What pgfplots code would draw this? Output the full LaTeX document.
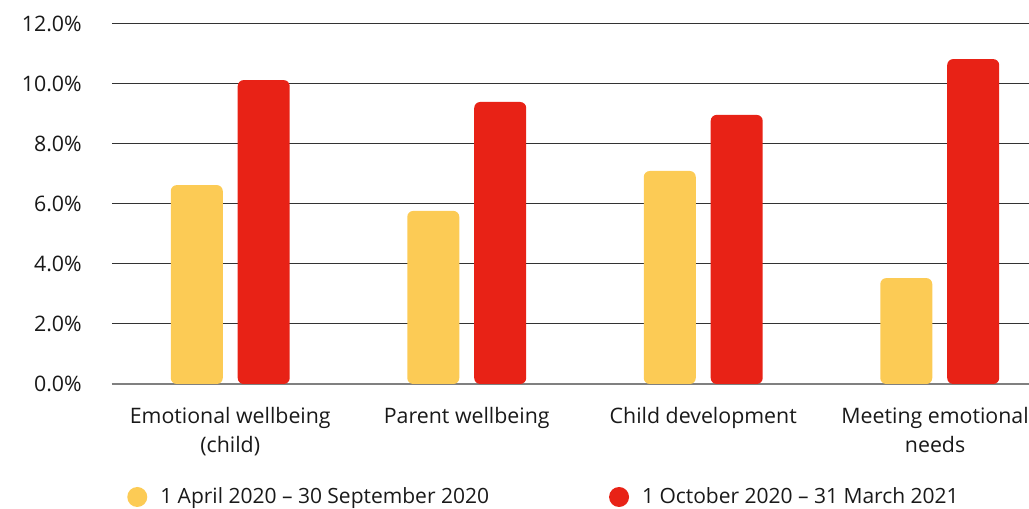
\documentclass[border=0pt]{standalone}
\usepackage{pgfplots}
\pgfplotsset{compat=1.18}
\usepackage{fontspec}
\setmainfont{Open Sans}
\definecolor{cyel}{HTML}{FCCB55}
\definecolor{cred}{HTML}{E82216}
\definecolor{cgrid}{HTML}{333333}
\definecolor{caxis}{HTML}{808080}
\begin{document}
\begin{tikzpicture}
\begin{axis}[
  scale only axis,
  width=709.5pt, height=270pt,
  xmin=-0.5, xmax=3.5,
  ymin=0, ymax=12,
  ybar,
  bar width=39pt,
  axis x line*=bottom,
  axis y line*=left,
  y axis line style={draw=none},
  x axis line style={caxis, line width=1.5pt},
  ymajorgrids,
  grid style={cgrid, line width=0.75pt},
  major tick length=0pt,
  xtick={0,1,2},
  xticklabels={{Emotional wellbeing\\(child)},{Parent wellbeing},{Child development}},
  xticklabel style={align=center, inner sep=0pt, yshift=-17pt, font=\fontsize{16}{21.75}\selectfont, text=black!90},
  extra x ticks={3},
  extra x tick labels={{Meeting emotional\\needs}},
  extra x tick style={major tick length=0pt, xticklabel style={xshift=-3.5pt}},
  ytick={0,2,4,6,8,10,12},
  yticklabels={0.0\%,2.0\%,4.0\%,6.0\%,8.0\%,10.0\%,12.0\%},
  yticklabel style={inner sep=0pt, xshift=-22.5pt, font=\fontsize{16}{18}\selectfont, text=black!90},
  legend columns=2,
  legend style={draw=none, fill=none, inner sep=0pt,
    at={([xshift=11.25pt,yshift=-84.75pt]axis description cs:0,0)}, anchor=west,
    font=\fontsize{15.75}{18}\selectfont, text=black!90,
    nodes={inner sep=0pt},
    /tikz/every odd column/.append style={column sep=9.75pt},
    /tikz/every even column/.append style={column sep=90pt}},
  legend cell align=left,
]
\addplot[fill=cyel, draw=none, rounded corners=4.5pt, bar shift=-25.1pt,
  legend image code/.code={\fill[cyel] (0pt,0pt) circle (7.5pt);}]
  coordinates {(0,6.63) (1,5.77) (2,7.1) (3,3.53)};
\addlegendentry{1 April 2020 -- 30 September 2020}
\addplot[fill=cred, draw=none, rounded corners=4.5pt, bar shift=25.1pt,
  legend image code/.code={\fill[cred] (0pt,0pt) circle (7.5pt);}]
  coordinates {(0,10.13) (1,9.4) (2,8.97) (3,10.83)};
\addlegendentry{1 October 2020 -- 31 March 2021}
\coordinate (o) at (rel axis cs:0,0);
\end{axis}
\pgfresetboundingbox
\path[use as bounding box] ([xshift=-84pt,yshift=-93.75pt]o) rectangle ([xshift=687.75pt,yshift=288pt]o);
\end{tikzpicture}
\end{document}
